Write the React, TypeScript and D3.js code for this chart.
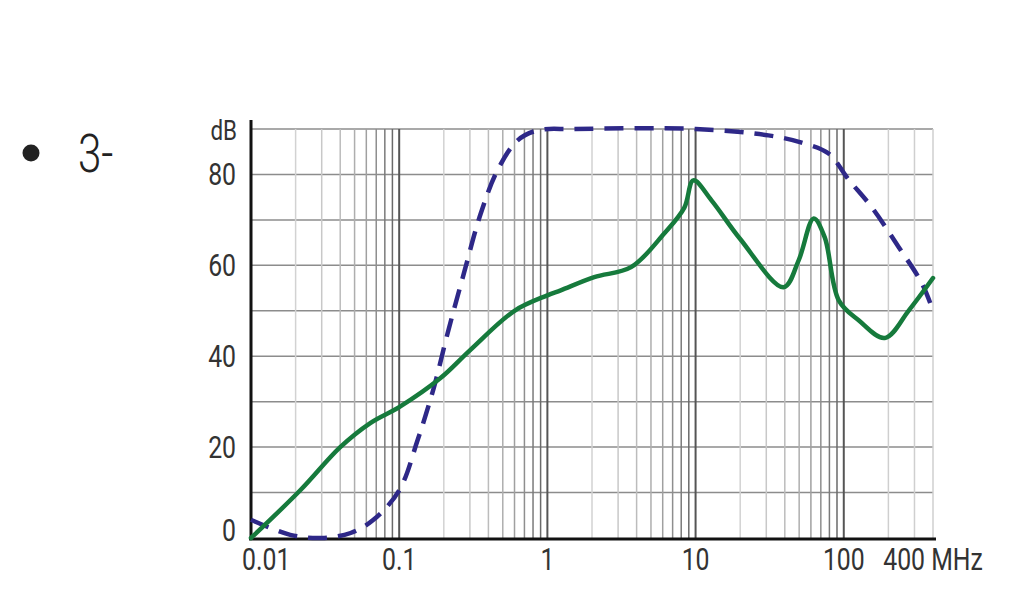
import React from "react";
import * as d3 from "d3";

const greenFreq = [0.01, 0.0215, 0.04, 0.0638, 0.1, 0.19, 0.3, 0.6, 1.0, 1.23, 2.07, 3.67, 6.14, 8.4, 9.66, 12.8, 20, 39.3, 49.6, 62.7, 74.3, 92.5, 126, 189, 275, 400];
const greenDb = [0, 10.5, 20, 25.3, 28.8, 35.2, 41.3, 50, 53.4, 54.5, 57.4, 59.6, 67, 72.7, 78.7, 74.3, 65.8, 55.2, 61.1, 70.3, 66.2, 52.3, 47.9, 44, 50.1, 57.2];

const blueFreq = [0.01, 0.0184, 0.03, 0.047, 0.067, 0.1, 0.133, 0.171, 0.212, 0.272, 0.355, 0.462, 0.63, 0.86, 1.5, 10, 31, 52, 79, 107, 155, 235, 337, 400];
const blueDb = [4, 0.7, 0, 1.1, 4, 10.5, 21.5, 33, 45, 58, 71.4, 81, 87.5, 89.7, 90, 90, 88.6, 87, 84.6, 79, 72.7, 64, 56, 50];

const xTickValues = [0.01, 0.1, 1, 10, 100, 400];
const xTickLabels = ["0.01", "0.1", "1", "10", "100", "400 MHz"];
const yTickValues = [0, 20, 40, 60, 80];
const yTickLabels = ["0", "20", "40", "60", "80"];
const decades = [0.01, 0.1, 1, 10, 100];
const multipliers = [2, 3, 4, 5, 6, 7, 8, 9];

const FONT = "Roboto, 'DejaVu Sans', sans-serif";

function Label(props: { x: number; y: number; anchor: string; size: number; children: React.ReactNode; weight?: number; fill?: string; sx?: number }) {
  const sx = props.sx ?? 0.8;
  return (
    <text
      transform={`translate(${props.x},${props.y}) scale(${sx},1)`}
      textAnchor={props.anchor as any}
      fontFamily={FONT}
      fontSize={props.size}
      fontWeight={props.weight ?? 400}
      fill={props.fill ?? "#333"}
    >
      {props.children}
    </text>
  );
}

export default function App() {
  const x = d3.scaleLog().domain([0.01, 400]).range([251, 933]);
  const y = d3.scaleLinear().domain([0, 90]).range([538, 129]);

  const line = d3
    .line<[number, number]>()
    .x((d) => x(d[0]))
    .y((d) => y(d[1]))
    .curve(d3.curveCatmullRom.alpha(0.5));

  const greenPath = line(greenFreq.map((f, i) => [f, greenDb[i]] as [number, number])) || "";
  const bluePath = line(blueFreq.map((f, i) => [f, blueDb[i]] as [number, number])) || "";

  const minorColor: Record<number, string> = {
    2: "#d2d2d2", 3: "#c8c8c8", 4: "#bcbcbc", 5: "#aeaeae", 6: "#a0a0a0", 7: "#8e8e8e", 8: "#7a7a7a", 9: "#6a6a6a",
  };

  const verticals: { v: number; color: string; w: number }[] = [];
  decades.forEach((d) => {
    multipliers.forEach((m) => {
      const v = d * m;
      if (v > 400.0001) return;
      const last = d === 100;
      verticals.push({ v, color: last ? "#cfcfcf" : minorColor[m], w: 1.5 });
    });
    if (d > 0.01) verticals.push({ v: d, color: "#555", w: 2 });
  });

  const horizontals = d3.range(10, 100, 10);

  return (
    <svg width={1024} height={597} style={{ position: "absolute", left: 0, top: 0, background: "#fff" }}>
      <rect x={0} y={0} width={1024} height={597} fill="#fff" />
      {/* bullet + heading */}
      <circle cx={31} cy={153} r={8.5} fill="#222" />
      <Label x={78} y={172} anchor="start" size={54} weight={300} fill="#222" sx={0.78}>
        3-
      </Label>

      {/* horizontal grid */}
      {horizontals.map((h) => (
        <line key={"h" + h} x1={251} x2={x(400)} y1={y(h)} y2={y(h)} stroke="#8c8c8c" strokeWidth={1.5} />
      ))}
      {/* vertical grid */}
      {verticals.map((g, i) => (
        <line key={"v" + i} x1={x(g.v)} x2={x(g.v)} y1={y(90)} y2={y(0)} stroke={g.color} strokeWidth={g.w} />
      ))}

      {/* axes */}
      <line x1={251} x2={251} y1={120} y2={540} stroke="#111" strokeWidth={3} />
      <line x1={249} x2={936} y1={539} y2={539} stroke="#111" strokeWidth={3} />

      {/* curves */}
      <path d={bluePath} fill="none" stroke="#2e2888" strokeWidth={4.5} strokeDasharray="19 11" strokeLinecap="butt" />
      <path d={greenPath} fill="none" stroke="#167a3c" strokeWidth={4.5} strokeLinejoin="round" strokeLinecap="round" />

      {/* y labels */}
      <Label x={237} y={140} anchor="end" size={28}>
        dB
      </Label>
      {yTickValues.map((v, i) => (
        <Label key={"yl" + v} x={236} y={(v === 0 ? y(v) - 8 : y(v)) + 11} anchor="end" size={31}>
          {yTickLabels[i]}
        </Label>
      ))}

      {/* x labels */}
      {xTickValues.map((v, i) => (
        <Label key={"xl" + v} x={i === 0 ? x(v) - 9 : x(v)} y={570} anchor={i === 0 ? "start" : "middle"} size={31}>
          {xTickLabels[i]}
        </Label>
      ))}
    </svg>
  );
}
